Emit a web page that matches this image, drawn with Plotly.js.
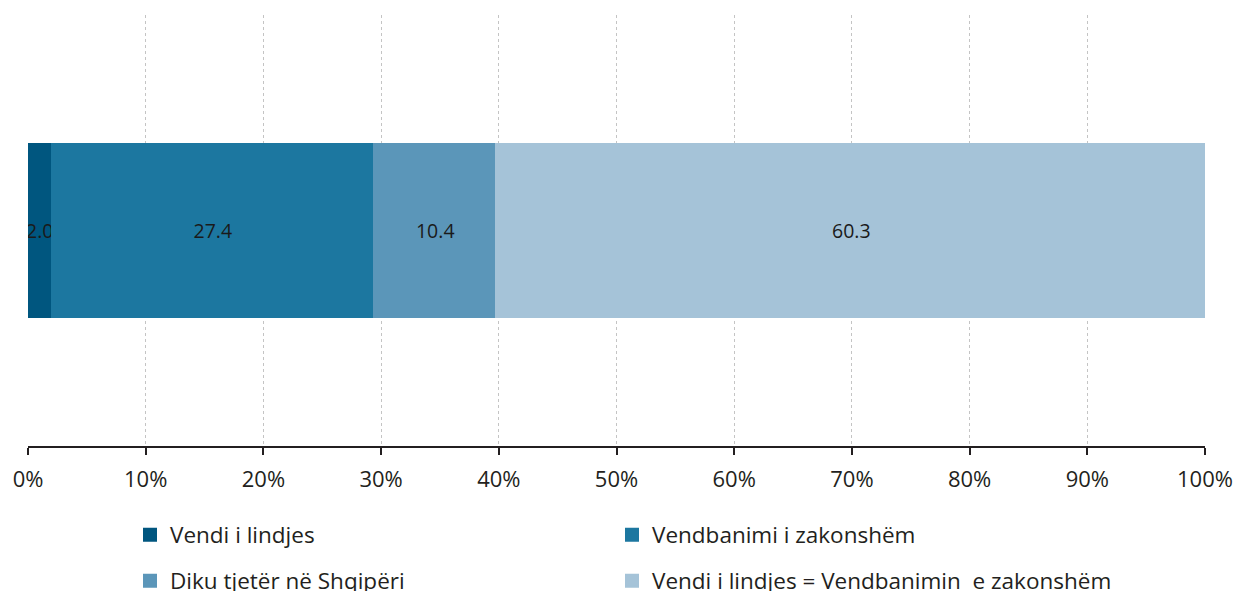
<!DOCTYPE html>
<html>
<head>
<meta charset="utf-8">
<script src="https://cdn.plot.ly/plotly-3.0.1.min.js"></script>
<style>html,body{margin:0;padding:0;background:#fff;}#chart{width:1240px;height:591px;}</style>
</head>
<body>
<div id="chart"></div>
<script>
const categories = ['Shqipëri'];
const seriesNames = ['Vendi i lindjes', 'Vendbanimi i zakonshëm', 'Diku tjetër në Shqipëri', 'Vendi i lindjes = Vendbanimin\u00a0 e zakonshëm'];
const seriesValues = [[2.0], [27.4], [10.4], [60.3]];
const seriesColors = ['#00567f', '#1c77a0', '#5b96b9', '#a5c3d8'];
const legendIds = ['legend', 'legend2', 'legend3', 'legend4'];
const tickValues = [0, 10, 20, 30, 40, 50, 60, 70, 80, 90, 100];
const tickLabels = ['0%', '10%', '20%', '30%', '40%', '50%', '60%', '70%', '80%', '90%', '100%'];

const FONT = '"Open Sans", Lato, sans-serif';

const traces = seriesNames.map((name, i) => ({
  type: 'bar',
  orientation: 'h',
  name: name,
  y: categories,
  x: seriesValues[i],
  legend: legendIds[i],
  marker: {color: seriesColors[i], line: {color: seriesColors[i], width: 2}},
  text: seriesValues[i].map(v => v.toFixed(1)),
  texttemplate: '%{text}',
  textposition: 'inside',
  insidetextanchor: 'middle',
  constraintext: 'none',
  textangle: 0,
  insidetextfont: {family: FONT, size: 19.5, color: '#1a1a1a'},
  hoverinfo: 'skip'
}));

const legendCommon = {
  orientation: 'h',
  xref: 'container', yref: 'container',
  xanchor: 'left', yanchor: 'middle',
  font: {family: FONT, size: 22.5, color: '#231f20'},
  bgcolor: 'rgba(0,0,0,0)',
  itemclick: false, itemdoubleclick: false
};
const legendPos = [[130, 535], [612, 535], [130, 581], [612, 581]];

const layout = {
  width: 1240, height: 591,
  margin: {l: 27.5, r: 34.7, t: 15, b: 145, pad: 0},
  paper_bgcolor: '#ffffff', plot_bgcolor: '#ffffff',
  barmode: 'stack',
  bargap: 0.6,
  font: {family: FONT, size: 22, color: '#231f20'},
  xaxis: {
    range: [0, 100],
    tickvals: tickValues,
    ticktext: tickLabels,
    showgrid: true,
    gridcolor: '#c4c4c4', gridwidth: 1, griddash: 'dot',
    showline: true, linecolor: '#231f20', linewidth: 2,
    ticks: 'outside', ticklen: 7, tickwidth: 2, tickcolor: '#231f20',
    ticklabelstandoff: 6,
    tickfont: {family: FONT, size: 22, color: '#231f20'},
    zeroline: false,
    fixedrange: true
  },
  yaxis: {
    type: 'category',
    range: [-0.5, 0.5],
    showticklabels: false, showgrid: false, zeroline: false, showline: false, ticks: '',
    fixedrange: true
  },
  showlegend: true
};
legendIds.forEach((id, i) => {
  layout[id] = Object.assign({}, legendCommon, {x: legendPos[i][0] / 1240, y: 1 - legendPos[i][1] / 591});
});

Plotly.newPlot('chart', traces, layout, {displayModeBar: false, staticPlot: true});
</script>
</body>
</html>
